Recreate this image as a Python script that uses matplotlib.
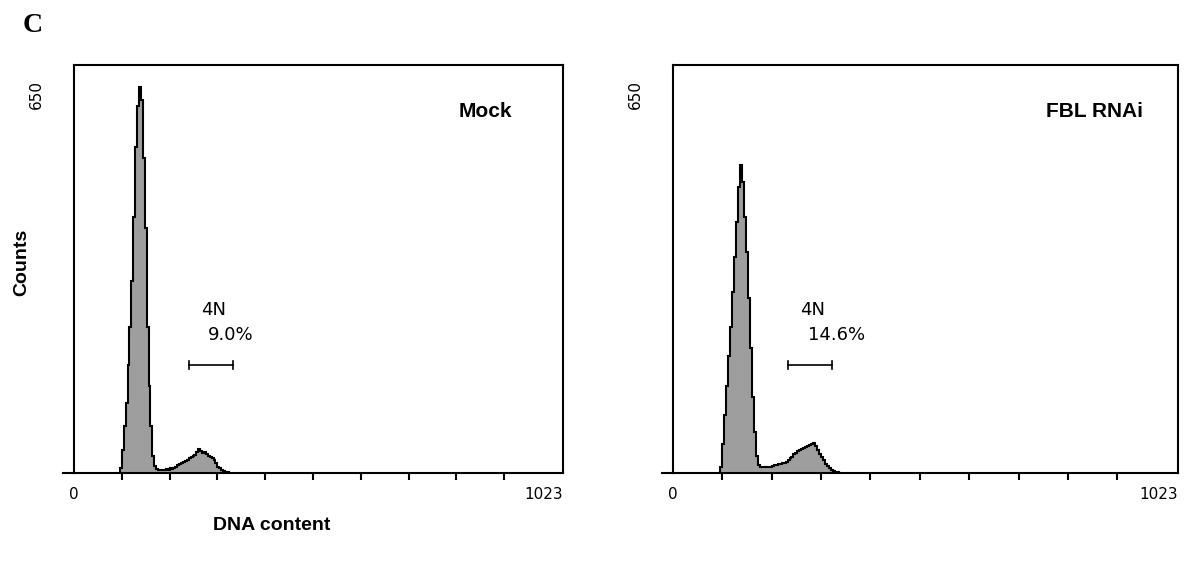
import matplotlib.pyplot as plt
import numpy as np
from matplotlib.lines import Line2D

# histogram counts, 4-channel bins starting at channel 96
bin_start = 96
bin_width = 4
mock_counts = [8, 40, 80, 120, 185, 250, 330, 440, 560, 630, 663, 640, 540, 420,
               250, 150, 80, 30, 12, 7, 5, 6, 5, 6, 7, 6, 8, 7, 9, 11, 13, 15,
               17, 19, 21, 22, 25, 27, 29, 31, 36, 42, 37, 35, 36, 33, 30, 28,
               25, 22, 17, 11, 8, 5, 3, 2, 1, 0]
fbl_counts = [10, 50, 100, 150, 200, 250, 310, 370, 430, 490, 528, 500, 440, 380,
              300, 215, 130, 70, 30, 14, 10, 10, 10, 10, 11, 11, 12, 13, 14, 15,
              16, 17, 18, 19, 22, 25, 28, 32, 35, 38, 40, 41, 43, 45, 46, 48, 50,
              51, 46, 40, 33, 27, 22, 16, 12, 8, 5, 3, 2, 1, 0]

panels = ["Mock", "FBL RNAi"]
pct_labels = ["9.0%", "14.6%"]
gate_ranges = [(240, 333), (233, 322)]
xticks_minor = [100, 200, 300, 400, 500, 600, 700, 800, 900]

fig = plt.figure(figsize=(11.89, 5.65), dpi=100)
ax_rects = [[74/1189, 92/565, 489/1189, 408/565],
            [673/1189, 92/565, 505/1189, 408/565]]
text_font = "DejaVu Sans"
bold_font = "Liberation Sans"

for i, (counts, name) in enumerate(zip([mock_counts, fbl_counts], panels)):
    ax = fig.add_axes(ax_rects[i])
    edges = bin_start + bin_width * np.arange(len(counts) + 1)
    ax.stairs(counts, edges, fill=True, color="#9e9e9e")
    ax.stairs(counts, edges, color="black", linewidth=1.5)
    ax.set_xlim(0, 1023)
    ax.set_ylim(0, 700)
    for s in ax.spines.values():
        s.set_linewidth(1.5)
        s.set_color("black")
    # x axis line extends a bit left of the y axis
    ax.add_line(Line2D([-0.022, 0], [0, 0], transform=ax.transAxes,
                       color="black", linewidth=1.5, clip_on=False))

    ticks = [0] + xticks_minor + [1023]
    labels = ["0"] + [""] * len(xticks_minor) + ["1023"]
    ax.set_xticks(ticks, labels, fontsize=11, family=text_font)
    ax.tick_params(axis="x", direction="out", length=5, width=1.5, pad=5)
    xt = ax.xaxis.get_major_ticks()
    xt[0].tick1line.set_visible(False)
    xt[-1].tick1line.set_visible(False)
    xt[-1].label1.set_horizontalalignment("right")
    ax.set_yticks([650], ["650"], fontsize=11, family=text_font,
                  rotation=90, va="center")
    ax.tick_params(axis="y", length=0, pad=22)

    ax.text(0.93 if i else 0.896, 0.885, name, transform=ax.transAxes,
            ha="right", va="center", fontsize=15, fontweight="bold",
            family=bold_font)

    g0, g1 = gate_ranges[i]
    ax.text(g0 + 25, 280, "4N", fontsize=13, family=text_font, va="center")
    ax.text(g0 + 40, 237, pct_labels[i], fontsize=13, family=text_font,
            va="center")
    ax.plot([g0, g1], [185, 185], color="black", linewidth=1.2)
    ax.plot([g0, g0], [178, 192], color="black", linewidth=1.2)
    ax.plot([g1, g1], [178, 192], color="black", linewidth=1.2)

fig.text(22/1189, 1 - 262/565, "Counts", rotation=90, ha="center", va="center",
         fontsize=14, fontweight="bold", family=bold_font)
fig.text(272/1189, 1 - 525/565, "DNA content", ha="center", va="center",
         fontsize=14, fontweight="bold", family=bold_font)
fig.text(33/1189, 1 - 25/565, "C", ha="center", va="center",
         fontsize=20, fontweight="bold", family="Liberation Serif")

fig.savefig("out.png", dpi=100)
